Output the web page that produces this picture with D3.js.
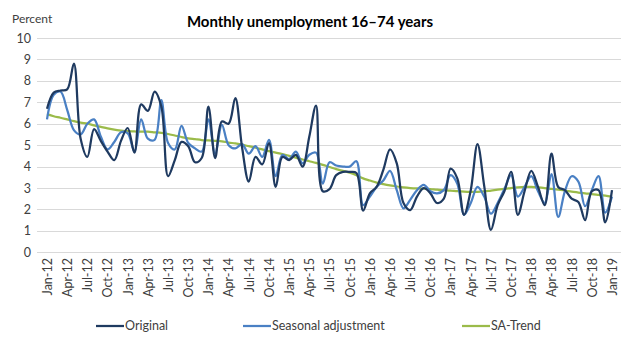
<!DOCTYPE html>
<head>
<meta charset="utf-8">
<style>
  body { margin:0; background:#fff; }
  text { font-family: Lato, "Open Sans", sans-serif; fill:#404040; }
  .grid line { stroke:#d9d9d9; stroke-width:1; }
  .series { fill:none; stroke-width:2.25px; stroke-linejoin:round; }
</style>
</head>
<body>
<script src="https://cdn.jsdelivr.net/npm/d3@7"></script>
<script>

var width = 642,
    height = 341;

// monthly categories Jan-12 .. Jan-19
var months = d3.timeMonth.range(new Date(2012, 0, 1), new Date(2019, 1, 1));
var fmt = d3.timeFormat("%b-%y");
var categories = months.map(function(d) { return fmt(d); });

var yTicks = [0, 1, 2, 3, 4, 5, 6, 7, 8, 9, 10];

var original = [6.7, 7.45, 7.55, 7.6, 8.8, 5.3, 4.45, 5.75, 5.2, 4.7, 4.3, 5.2,
  5.8, 4.65, 6.9, 6.6, 7.5, 6.8, 3.55, 4.3, 5.15, 4.95, 4.2, 4.4,
  6.8, 4.4, 6.1, 6.0, 7.2, 4.9, 3.3, 4.45, 4.1, 5.1, 3.05, 4.45,
  4.3, 4.55, 4.0, 5.4, 6.85, 2.85, 2.95, 3.6, 3.75, 3.75, 3.7, 1.95,
  2.75, 3.05, 3.85, 4.8, 4.15, 2.3, 1.97, 2.6, 3.0, 2.75, 2.3, 2.5,
  3.9, 3.45, 1.75, 2.9, 5.05, 3.1, 1.05, 2.2, 2.85, 3.75, 1.75, 2.85,
  3.8, 3.05, 2.2, 4.6, 3.05, 2.9, 2.5, 2.35, 1.5, 2.85, 2.9, 1.4,
  2.9];

var seasonal = [6.2, 7.35, 7.5, 6.65, 5.7, 5.5, 6.0, 6.2, 5.4, 4.8, 5.15, 5.6,
  5.55, 4.7, 6.2, 5.3, 5.25, 7.1, 5.1, 4.8, 5.9, 5.1, 4.85, 4.7,
  6.2, 4.6, 5.95, 5.0, 4.85, 5.05, 4.6, 4.95, 4.45, 5.25, 3.55, 4.55,
  4.35, 4.7, 4.15, 4.55, 4.65, 3.2, 4.2, 4.05, 4.0, 4.0, 4.25, 2.2,
  2.6, 3.05, 3.35, 3.8, 2.9, 2.05, 2.45, 2.9, 3.15, 2.85, 2.75, 2.9,
  3.6, 3.2, 1.75, 2.3, 3.05, 2.6, 1.8, 2.3, 2.95, 3.6, 2.6, 3.05,
  3.55, 2.85, 2.3, 3.65, 1.65, 2.85, 3.55, 3.3, 2.15, 2.9, 3.55, 1.85,
  2.6];

var trend = [6.45, 6.35, 6.28, 6.2, 6.12, 6.05, 6.0, 5.92, 5.85, 5.78, 5.72, 5.68,
  5.65, 5.64, 5.63, 5.63, 5.6, 5.57, 5.52, 5.45, 5.38, 5.32, 5.28, 5.24,
  5.22, 5.2, 5.18, 5.12, 5.08, 5.02, 4.95, 4.88, 4.8, 4.72, 4.65, 4.58,
  4.5, 4.42, 4.33, 4.25, 4.17, 4.08, 3.98, 3.88, 3.8, 3.72, 3.6, 3.45,
  3.35, 3.25, 3.18, 3.12, 3.07, 3.03, 3.0, 2.98, 2.97, 2.95, 2.92, 2.9,
  2.88, 2.85, 2.83, 2.82, 2.82, 2.84, 2.88, 2.92, 2.96, 3.0, 3.03, 3.05,
  3.05, 3.03, 3.0, 2.96, 2.92, 2.88, 2.83, 2.79, 2.75, 2.72, 2.68, 2.64,
  2.6];

var seriesNames = ["Original", "Seasonal adjustment", "SA-Trend"];
var seriesColors = ["#1f3a60", "#4a80c4", "#9bbb4a"];
var seriesData = [original, seasonal, trend];

var svg = d3.select("body").append("svg")
    .attr("width", width)
    .attr("height", height);

var x = d3.scalePoint()
    .domain(categories)
    .range([47, 612]);

var y = d3.scaleLinear()
    .domain([0, 10])
    .range([252.3, 38]);

// gridlines
svg.append("g")
    .attr("class", "grid")
    .selectAll("line")
    .data(yTicks).enter()
    .append("line")
    .attr("x1", 37).attr("x2", 621)
    .attr("y1", function(d) { return Math.round(y(d)) + 0.5; })
    .attr("y2", function(d) { return Math.round(y(d)) + 0.5; });

// y axis labels
var yAxis = d3.axisLeft(y).tickValues(yTicks).tickSize(0).tickPadding(0);
var gy = svg.append("g")
    .attr("transform", "translate(31,0)")
    .call(yAxis);
gy.select(".domain").remove();
gy.selectAll("text")
    .style("font-size", "12.5px")
    .attr("fill", "#404040");

// x axis labels every quarter
var xTicks = categories.filter(function(d, i) { return i % 3 === 0; });
var xAxis = d3.axisBottom(x).tickValues(xTicks).tickSize(0).tickPadding(0);
var gx = svg.append("g")
    .attr("transform", "translate(0,258)")
    .call(xAxis);
gx.select(".domain").remove();
gx.selectAll("text")
    .style("font-size", "12.5px")
    .attr("fill", "#404040")
    .attr("transform", "rotate(-90)")
    .attr("text-anchor", "end")
    .attr("x", 0)
    .attr("y", 0)
    .attr("dx", 0)
    .attr("dy", "0.35em");

// lines
var line = d3.line()
    .x(function(d, i) { return x(categories[i]); })
    .y(function(d) { return y(d); })
    .curve(d3.curveCatmullRom.alpha(0.5));

svg.selectAll(".series")
    .data([2, 1, 0]).enter()
    .append("path")
    .attr("class", "series")
    .attr("d", function(k) { return line(seriesData[k]); })
    .style("stroke", function(k) { return seriesColors[k]; });

// title and unit
svg.append("text")
    .attr("x", 310).attr("y", 27)
    .attr("text-anchor", "middle")
    .style("font-size", "15px")
    .style("font-weight", "bold")
    .style("fill", "#000")
    .text("Monthly unemployment 16\u201374 years");

svg.append("text")
    .attr("x", 12).attr("y", 23)
    .style("font-size", "12px")
    .text("Percent");

// legend
var legendX = [96, 243, 462];
var legend = svg.selectAll(".legend")
    .data(seriesNames).enter()
    .append("g")
    .attr("class", "legend")
    .attr("transform", function(d, i) { return "translate(" + legendX[i] + ",326)"; });
legend.append("line")
    .attr("x1", 0).attr("x2", 28)
    .attr("y1", 0).attr("y2", 0)
    .style("stroke", function(d, i) { return seriesColors[i]; })
    .style("stroke-width", "2.25px");
legend.append("text")
    .attr("x", 29).attr("y", 0)
    .attr("dy", "0.35em")
    .style("font-size", "12.5px")
    .text(function(d) { return d; });

</script>
</body>
